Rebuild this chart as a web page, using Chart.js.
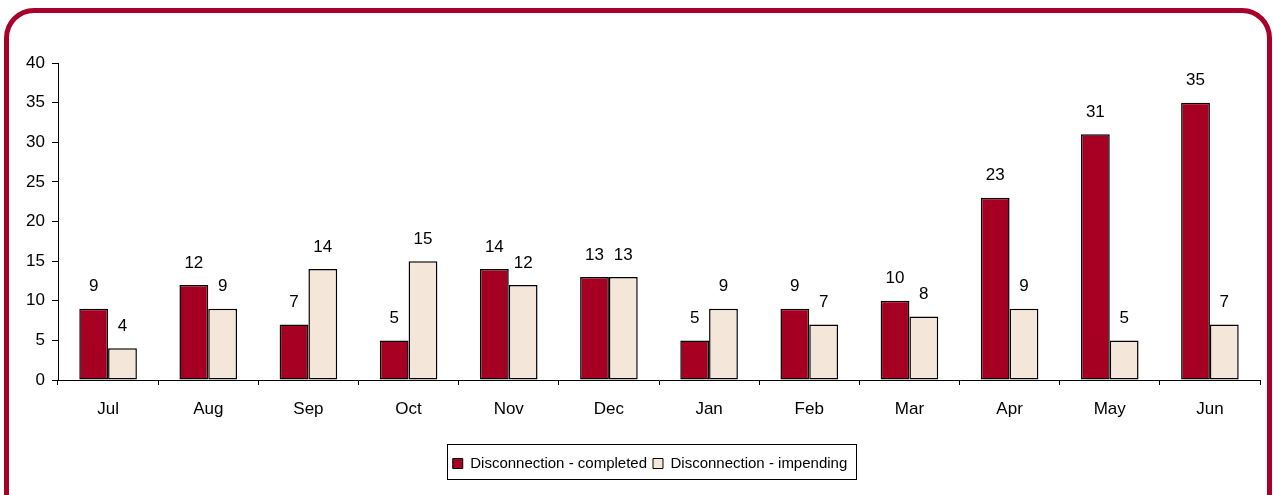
<!DOCTYPE html>
<html>
<head>
<meta charset="utf-8">
<script src="https://cdn.jsdelivr.net/npm/chart.js@4/dist/chart.umd.min.js"></script>
<style>
  html, body { margin: 0; padding: 0; background: #ffffff; overflow: hidden; }
  #wrap { position: relative; width: 1273px; height: 495px; }
  #frame {
    position: absolute; left: 4px; top: 8px; width: 1268px; height: 540px;
    box-sizing: border-box; border: 5px solid #A8002A; border-radius: 30px;
    pointer-events: none;
  }
  canvas { position: absolute; left: 0; top: 0; }
</style>
</head>
<body>
<div id="wrap">
  <canvas id="c" width="1273" height="495"></canvas>
  <div id="frame"></div>
</div>
<script>
const months = ["Jul","Aug","Sep","Oct","Nov","Dec","Jan","Feb","Mar","Apr","May","Jun"];
const completed = [9, 12, 7, 5, 14, 13, 5, 9, 10, 23, 31, 35];
const impending = [4, 9, 14, 15, 12, 13, 9, 7, 8, 9, 5, 7];
const yTicks = [0, 5, 10, 15, 20, 25, 30, 35, 40];

const FONT = '"Liberation Sans", Arial, sans-serif';
const LEGEND_SHIFT = 20;

const valueLabels = {
  id: 'valueLabels',
  afterDatasetsDraw(chart) {
    const ctx = chart.ctx;
    ctx.save();
    ctx.font = '17px ' + FONT;
    ctx.fillStyle = '#000';
    ctx.textAlign = 'center';
    ctx.textBaseline = 'middle';
    chart.data.datasets.forEach((ds, i) => {
      const meta = chart.getDatasetMeta(i);
      meta.data.forEach((bar, j) => {
        ctx.fillText(String(ds.data[j]), bar.x, bar.y - 22);
      });
    });
    ctx.restore();
  }
};

const legendShift = {
  id: 'legendShift',
  afterUpdate(chart) {
    const lg = chart.legend;
    if (!lg) return;
    lg.left += LEGEND_SHIFT; lg.right += LEGEND_SHIFT;
    (lg.legendHitBoxes || []).forEach(h => { h.left += LEGEND_SHIFT; });
  }
};

const legendBox = {
  id: 'legendBox',
  afterDraw(chart) {
    const boxes = chart.legend && chart.legend.legendHitBoxes;
    if (!boxes || !boxes.length) return;
    let l = Infinity, r = -Infinity, t = Infinity, b = -Infinity;
    boxes.forEach(h => {
      l = Math.min(l, h.left); r = Math.max(r, h.left + h.width);
      t = Math.min(t, h.top); b = Math.max(b, h.top + h.height);
    });
    const ctx = chart.ctx;
    ctx.save();
    ctx.strokeStyle = '#000';
    ctx.lineWidth = 1;
    const top = Math.round(t - 12), bottom = Math.round(b + 8);
    ctx.strokeRect(Math.round(l - 6) + 0.5, top + 0.5, Math.round(r - l + 14), bottom - top);
    ctx.restore();
  }
};

new Chart(document.getElementById('c'), {
  type: 'bar',
  data: {
    labels: months,
    datasets: [
      { label: 'Disconnection - completed', data: completed, backgroundColor: '#A50021', borderColor: '#000', borderWidth: 1.5, borderSkipped: false },
      { label: 'Disconnection - impending', data: impending, backgroundColor: '#F4E6D9', borderColor: '#000', borderWidth: 1.5, borderSkipped: false }
    ]
  },
  options: {
    responsive: false,
    animation: false,
    devicePixelRatio: 1,
    layout: { padding: { left: 0, right: 13, top: 63, bottom: 14 } },
    datasets: { bar: { categoryPercentage: 0.575, barPercentage: 1.0 } },
    scales: {
      x: {
        grid: { display: true, drawOnChartArea: false, drawTicks: true, tickLength: 5, color: '#000', offset: true },
        border: { display: true, color: '#000', width: 1 },
        ticks: { color: '#000', font: { family: FONT, size: 17 }, padding: 14 },
        afterFit(s) { s.height = 70; }
      },
      y: {
        min: 0, max: 40,
        afterBuildTicks(s) { s.ticks = yTicks.map(v => ({ value: v })); },
        grid: { display: true, drawOnChartArea: false, drawTicks: true, tickLength: 6, color: '#000' },
        border: { display: true, color: '#000', width: 1 },
        ticks: { color: '#000', font: { family: FONT, size: 17 }, padding: 7 },
        afterFit(s) { s.width = 58; }
      }
    },
    plugins: {
      legend: {
        position: 'bottom',
        labels: {
          color: '#000',
          font: { family: FONT, size: 15 },
          boxWidth: 10, boxHeight: 10, padding: 6,
          generateLabels(chart) {
            return chart.data.datasets.map((ds, i) => ({
              text: ds.label, fillStyle: ds.backgroundColor, strokeStyle: '#000',
              lineWidth: 1, hidden: false, datasetIndex: i, fontColor: '#000'
            }));
          }
        },
        onClick: null
      },
      tooltip: { enabled: false },
      title: { display: false }
    }
  },
  plugins: [valueLabels, legendShift, legendBox]
});
</script>
</body>
</html>
